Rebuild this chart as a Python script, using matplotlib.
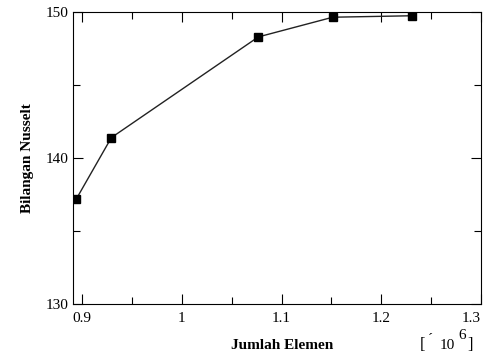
import matplotlib
matplotlib.use("Agg")
import matplotlib.pyplot as plt
from matplotlib.ticker import MultipleLocator

# data
elements = [0.8943, 0.9294, 1.0767, 1.1513, 1.2308]   # x 10^6
nusselt = [137.2, 141.4, 148.3, 149.65, 149.75]
xticks = [0.9, 1.0, 1.1, 1.2, 1.3]
xtick_labels = ['0.9', '1', '1.1', '1.2', '1.3']

plt.rcParams['font.family'] = ['Liberation Serif', 'DejaVu Serif']

fig = plt.figure(figsize=(4.87, 3.56), dpi=100)
ax = fig.add_axes([0.150, 0.146, 0.838, 0.820])

ax.plot(elements, nusselt, color='#222222', lw=1.0, marker='s',
        markersize=6, markerfacecolor='black', markeredgecolor='black')

ax.set_xlim(0.891, 1.3)
ax.set_ylim(130, 150)
ax.set_xticks(xticks)
ax.set_xticklabels(xtick_labels)
ax.xaxis.set_minor_locator(MultipleLocator(0.05))
ax.yaxis.set_major_locator(MultipleLocator(10))
ax.yaxis.set_minor_locator(MultipleLocator(5))

ax.tick_params(which='both', direction='in', top=True, right=True,
               labelsize=11, width=0.8)
ax.tick_params(which='major', length=7)
ax.tick_params(which='minor', length=5)
ax.tick_params(axis='x', pad=6)
ax.get_xticklabels()[-1].set_horizontalalignment('right')
for s in ax.spines.values():
    s.set_linewidth(0.8)

ax.set_ylabel('Bilangan Nusselt', fontweight='bold', fontsize=11, labelpad=8)
fig.text(0.58, 0.03, 'Jumlah Elemen', fontweight='bold', fontsize=11,
         ha='center', va='center')
# multiplier note "[´ 10^6]"
fig.text(0.862, 0.03, '[', fontsize=12, ha='left', va='center')
fig.text(0.878, 0.045, '\u00b4', fontsize=11, ha='left', va='center')
fig.text(0.902, 0.03, '10', fontsize=11, ha='left', va='center')
fig.text(0.942, 0.058, '6', fontsize=11, ha='left', va='center')
fig.text(0.960, 0.03, ']', fontsize=12, ha='left', va='center')

fig.savefig('out.png', dpi=100)
